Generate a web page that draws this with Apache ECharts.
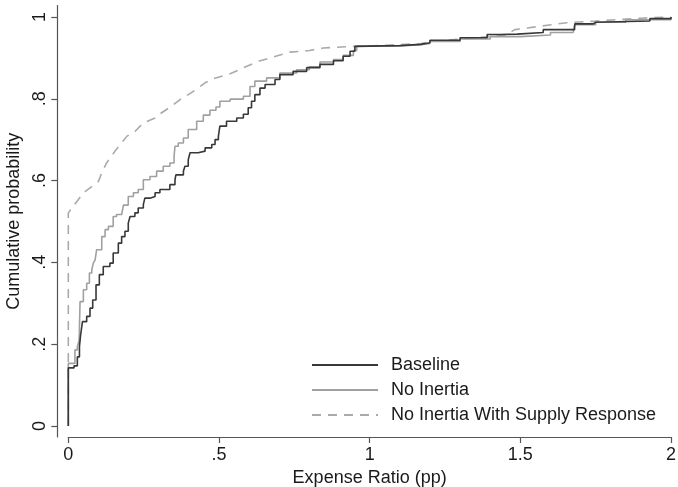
<!DOCTYPE html>
<html>
<head>
<meta charset="utf-8">
<script src="https://cdn.jsdelivr.net/npm/echarts@6/dist/echarts.min.js"></script>
<style>
html,body{margin:0;padding:0;background:#fff;}
#chart{width:678px;height:487px;}
</style>
</head>
<body>
<div id="chart"></div>
<script>
// ---- data (x = expense ratio in pp, y = cumulative probability) ----
const seriesNames = ['Baseline', 'No Inertia', 'No Inertia With Supply Response'];

const baseline = [
  [0,0],[0,0.142],[0.019,0.147],[0.03,0.169],[0.037,0.194],[0.041,0.223],[0.047,0.255],
  [0.061,0.268],[0.072,0.288],[0.081,0.308],[0.092,0.345],[0.103,0.37],[0.116,0.39],
  [0.138,0.398],[0.149,0.423],[0.166,0.447],[0.177,0.463],[0.188,0.476],[0.199,0.496],
  [0.205,0.512],[0.221,0.521],[0.232,0.533],[0.249,0.541],[0.254,0.557],[0.271,0.561],
  [0.288,0.57],[0.304,0.578],[0.337,0.59],[0.354,0.602],[0.357,0.614],[0.382,0.623],
  [0.387,0.635],[0.398,0.651],[0.404,0.668],[0.431,0.672],[0.454,0.68],[0.476,0.688],
  [0.487,0.7],[0.498,0.708],[0.503,0.733],[0.525,0.745],[0.559,0.753],[0.581,0.762],
  [0.597,0.778],[0.608,0.794],[0.619,0.81],[0.636,0.826],[0.653,0.835],[0.686,0.847],
  [0.702,0.859],[0.746,0.867],[0.791,0.876],[0.835,0.884],[0.88,0.893],[0.912,0.904],
  [0.935,0.916],[0.951,0.928],[0.957,0.93],[1.1,0.933],[1.17,0.937],[1.2,0.943],
  [1.3,0.949],[1.39,0.957],[1.43,0.958],[1.49,0.962],[1.576,0.969],[1.68,0.975],
  [1.681,0.983],[1.742,0.987],[1.75,0.99],[1.93,0.996],[2.0,1.0]
];

const noInertia = [
  [0,0],[0,0.153],[0.022,0.186],[0.03,0.194],[0.036,0.21],[0.039,0.304],[0.05,0.333],
  [0.061,0.349],[0.07,0.374],[0.078,0.382],[0.083,0.398],[0.089,0.406],[0.094,0.431],
  [0.111,0.463],[0.122,0.48],[0.133,0.488],[0.149,0.512],[0.16,0.517],[0.177,0.521],
  [0.183,0.54],[0.199,0.561],[0.216,0.57],[0.232,0.578],[0.249,0.602],[0.271,0.61],
  [0.293,0.623],[0.315,0.635],[0.337,0.643],[0.351,0.659],[0.354,0.684],[0.365,0.692],
  [0.382,0.704],[0.398,0.725],[0.426,0.745],[0.448,0.76],[0.47,0.772],[0.49,0.78],
  [0.503,0.794],[0.537,0.799],[0.581,0.806],[0.603,0.83],[0.619,0.843],[0.658,0.851],
  [0.702,0.863],[0.758,0.871],[0.8,0.878],[0.835,0.89],[0.88,0.896],[0.912,0.906],
  [0.946,0.918],[0.957,0.929],[1.1,0.932],[1.17,0.935],[1.2,0.94],[1.3,0.946],
  [1.4,0.952],[1.5,0.956],[1.6,0.962],[1.675,0.966],[1.681,0.981],[1.75,0.987],
  [1.85,0.993],[2.0,1.0]
];

const supplyResponse = [
  [0,0],[0,0.521],[0.006,0.525],[0.05,0.57],[0.061,0.576],[0.1,0.598],[0.111,0.619],
  [0.127,0.643],[0.155,0.672],[0.177,0.692],[0.194,0.708],[0.221,0.72],[0.249,0.741],
  [0.288,0.753],[0.304,0.763],[0.343,0.782],[0.371,0.798],[0.398,0.81],[0.425,0.823],
  [0.454,0.839],[0.481,0.849],[0.537,0.861],[0.582,0.876],[0.625,0.89],[0.68,0.902],
  [0.736,0.914],[0.8,0.918],[0.846,0.924],[0.946,0.928],[1.0,0.929],[1.17,0.935],
  [1.2,0.94],[1.3,0.946],[1.45,0.955],[1.482,0.969],[1.654,0.986],[1.75,0.99],
  [1.9,0.997],[2.0,1.0]
];

const xTickValues = [0, 0.5, 1, 1.5, 2];
const xTickLabels = ['0', '.5', '1', '1.5', '2'];
const yTickValues = [0, 0.2, 0.4, 0.6, 0.8, 1];
const yTickLabels = ['0', '.2', '.4', '.6', '.8', '1'];

const xTitle = 'Expense Ratio (pp)';
const yTitle = 'Cumulative probability';

// ---- chart ----
const FONT = '"Liberation Sans", Arial, Helvetica, sans-serif';
const TXT = '#1a1a1a';
const AX = '#555555';

function lookup(values, labels) {
  return function (v) {
    for (let i = 0; i < values.length; i++) {
      if (Math.abs(values[i] - v) < 1e-9) return labels[i];
    }
    return '';
  };
}

const chart = echarts.init(document.getElementById('chart'), null, {renderer: 'canvas'});

chart.setOption({
  animation: false,
  backgroundColor: '#ffffff',
  textStyle: {fontFamily: FONT},
  grid: {left: 68.3, right: 7, top: 5.5, bottom: 50, containLabel: false, outerBoundsMode: 'none'},
  legend: {
    orient: 'vertical',
    left: 311,
    top: 356,
    padding: 0,
    itemWidth: 66,
    itemHeight: 14,
    itemGap: 7,
    itemStyle: {opacity: 0, borderWidth: 0},
    textStyle: {fontFamily: FONT, fontSize: 18, color: TXT, padding: [0, 0, 0, 8]},
    data: seriesNames
  },
  xAxis: {
    type: 'value',
    min: 0,
    max: 2,
    interval: 0.5,
    name: xTitle,
    nameLocation: 'middle',
    nameGap: 32,
    nameTextStyle: {fontFamily: FONT, fontSize: 18, color: TXT},
    axisLine: {show: true, onZero: false, lineStyle: {color: AX, width: 1.2}},
    axisTick: {show: true, length: 6, lineStyle: {color: AX, width: 1.2}},
    axisLabel: {
      show: true, margin: 9, fontSize: 18, color: TXT, fontFamily: FONT,
      formatter: lookup(xTickValues, xTickLabels)
    },
    splitLine: {show: false}
  },
  yAxis: {
    type: 'value',
    min: -0.027,
    max: 1.028,
    offset: 11,
    name: yTitle,
    nameLocation: 'middle',
    nameGap: 31,
    nameRotate: 90,
    nameTextStyle: {fontFamily: FONT, fontSize: 18, color: TXT},
    axisLine: {show: true, onZero: false, lineStyle: {color: AX, width: 1.2}},
    axisTick: {show: true, length: 6, customValues: yTickValues, lineStyle: {color: AX, width: 1.2}},
    axisLabel: {
      show: true, rotate: 90, margin: 8, fontSize: 18, color: TXT, fontFamily: FONT,
      customValues: yTickValues,
      formatter: lookup(yTickValues, yTickLabels)
    },
    splitLine: {show: false}
  },
  series: [
    {
      name: seriesNames[0], type: 'line', step: 'end', data: baseline,
      symbol: 'none', showSymbol: false, z: 5,
      lineStyle: {color: '#383838', width: 1.6},
      itemStyle: {color: '#383838'}
    },
    {
      name: seriesNames[1], type: 'line', step: 'end', data: noInertia,
      symbol: 'none', showSymbol: false, z: 4,
      lineStyle: {color: '#a0a0a0', width: 1.6},
      itemStyle: {color: '#a0a0a0'}
    },
    {
      name: seriesNames[2], type: 'line', data: supplyResponse,
      symbol: 'none', showSymbol: false, z: 3,
      lineStyle: {color: '#aaaaaa', width: 1.6, type: [9, 7]},
      itemStyle: {color: '#aaaaaa'}
    }
  ]
});
</script>
</body>
</html>
